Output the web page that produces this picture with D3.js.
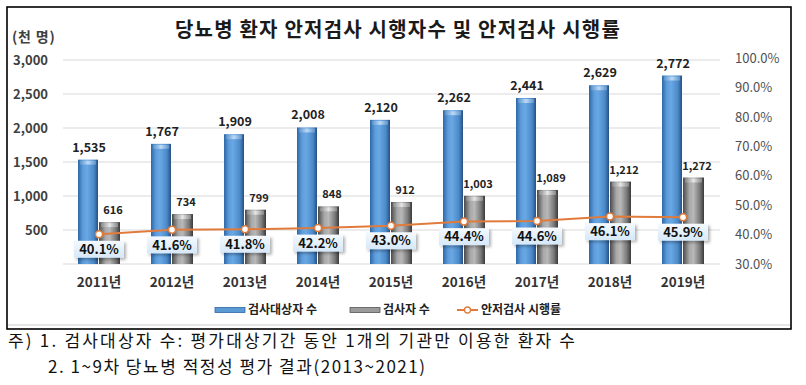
<!DOCTYPE html>
<html>
<head>
<meta charset="utf-8">
<script src="https://cdn.jsdelivr.net/npm/d3@7/dist/d3.min.js"></script>
<style>
  body { margin:0; background:#fff; }
  text { font-family: "Noto Sans CJK KR", "Noto Sans", sans-serif; }
</style>
</head>
<body>
<script>
// data
var years = ["2011년","2012년","2013년","2014년","2015년","2016년","2017년","2018년","2019년"];
var targets = [1535,1767,1909,2008,2120,2262,2441,2629,2772];   // 검사대상자 수 (천 명)
var examined = [616,734,799,848,912,1003,1089,1212,1272];       // 검사자 수 (천 명)
var rates = [40.1,41.6,41.8,42.2,43.0,44.4,44.6,46.1,45.9];     // 안저검사 시행률 (%)
var leftTicks = [500,1000,1500,2000,2500,3000];
var rightTicks = [30,40,50,60,70,80,90,100];
var seriesNames = ["검사대상자 수","검사자 수","안저검사 시행률"];
var notes = ["주) 1. 검사대상자 수: 평가대상기간 동안 1개의 기관만 이용한 환자 수",
             "2. 1~9차 당뇨병 적정성 평가 결과(2013~2021)"];

var width = 806, height = 385;
var svg = d3.select("body").append("svg")
  .attr("width", width).attr("height", height);

var defs = svg.append("defs");
function hGrad(id, stops){
  var g = defs.append("linearGradient").attr("id", id)
    .attr("x1","0%").attr("x2","100%").attr("y1","0%").attr("y2","0%");
  stops.forEach(function(s){ g.append("stop").attr("offset", s[0]).attr("stop-color", s[1]); });
}
hGrad("blueG", [["0%","#2f67a6"],["25%","#5d9ddc"],["45%","#6aa8e4"],["80%","#4a88c8"],["100%","#264f80"]]);
hGrad("grayG", [["0%","#4a4a4a"],["30%","#a8a8a8"],["50%","#b8b8b8"],["80%","#7a7a7a"],["100%","#3a3a3a"]]);
hGrad("blueCap", [["0%","#5c93cc"],["50%","#bcdaf6"],["100%","#5c93cc"]]);
hGrad("grayCap", [["0%","#888"],["50%","#e6e6e6"],["100%","#888"]]);
var bg = defs.append("linearGradient").attr("id","boxG").attr("x1","0").attr("x2","0").attr("y1","0").attr("y2","1");
bg.append("stop").attr("offset","0%").attr("stop-color","#f4f9fe");
bg.append("stop").attr("offset","100%").attr("stop-color","#d6e8f8");
var sh = defs.append("filter").attr("id","shadow").attr("x","-20%").attr("y","-30%").attr("width","150%").attr("height","170%");
sh.append("feDropShadow").attr("dx",2).attr("dy",2).attr("stdDeviation",1.5).attr("flood-color","#000").attr("flood-opacity",0.3);

// frame
svg.append("rect").attr("x",7).attr("y",7).attr("width",784).attr("height",322)
  .attr("fill","#fff").attr("stroke","#000").attr("stroke-width",1.6);
svg.append("line").attr("x1",8).attr("x2",790).attr("y1",325).attr("y2",325)
  .attr("stroke","#dcdcdc").attr("stroke-width",1.5);

// title
svg.append("text").attr("x",398).attr("y",37).attr("text-anchor","middle")
  .attr("font-size",20).attr("font-weight","bold").attr("fill","#1a1a1a")
  .attr("letter-spacing",1.2)
  .text("당뇨병 환자 안저검사 시행자수 및 안저검사 시행률");

var x = d3.scaleBand().domain(years).range([62.5, 719.5]);
var y = d3.scaleLinear().domain([0,3000]).range([264,60]);
var yr = d3.scaleLinear().domain([30,100]).range([264,58]);

// grid
svg.append("g").selectAll("line").data([0].concat(leftTicks)).enter().append("line")
  .attr("x1",63).attr("x2",720)
  .attr("y1",function(d){return y(d);}).attr("y2",function(d){return y(d);})
  .attr("stroke","#d9d9d9").attr("stroke-width",1);

// left axis
var la = svg.append("g").attr("transform","translate(48,0)")
  .call(d3.axisLeft(y).tickValues(leftTicks).tickSize(0).tickPadding(0).tickFormat(d3.format(",")));
la.select(".domain").remove();
la.selectAll("text").attr("font-size",13).attr("font-weight","bold").attr("fill","#404040")
  .attr("font-family","'Noto Sans', sans-serif");
svg.append("text").attr("x",12).attr("y",42).attr("font-size",14).attr("font-weight","bold")
  .attr("letter-spacing",0.8).attr("fill","#404040").text("(천 명)");

// right axis
var ra = svg.append("g").attr("transform","translate(735,0)")
  .call(d3.axisRight(yr).tickValues(rightTicks).tickSize(0).tickPadding(0).tickFormat(function(d){return d.toFixed(1)+"%";}));
ra.select(".domain").remove();
ra.selectAll("text").attr("font-size",13).attr("fill","#505050")
  .attr("font-family","'Noto Sans', sans-serif");

// x labels
var xa = svg.append("g").attr("transform","translate(0,277)")
  .call(d3.axisBottom(x).tickSize(0).tickPadding(0));
xa.select(".domain").remove();
xa.selectAll("text").attr("font-size",13.5).attr("font-weight","bold").attr("fill","#333").attr("dy","0.71em");

var bw = 20;
function cx(d){ return x(d) + x.bandwidth()/2; }

// blue bars
var gb = svg.append("g");
gb.selectAll("rect.b").data(years).enter().append("rect")
  .attr("x",function(d){return cx(d)-bw-1;}).attr("width",bw)
  .attr("y",function(d,i){return y(targets[i]);})
  .attr("height",function(d,i){return y(0)-y(targets[i]);})
  .attr("fill","url(#blueG)");
gb.selectAll("rect.bc").data(years).enter().append("rect")
  .attr("x",function(d){return cx(d)-bw+1;}).attr("width",bw-4)
  .attr("y",function(d,i){return y(targets[i])+1;}).attr("height",4)
  .attr("fill","url(#blueCap)");

// gray bars
gb.selectAll("rect.g").data(years).enter().append("rect")
  .attr("x",function(d){return cx(d);}).attr("width",bw+1)
  .attr("y",function(d,i){return y(examined[i]);})
  .attr("height",function(d,i){return y(0)-y(examined[i]);})
  .attr("fill","url(#grayG)");
gb.selectAll("rect.gc").data(years).enter().append("rect")
  .attr("x",function(d){return cx(d)+2;}).attr("width",bw-3)
  .attr("y",function(d,i){return y(examined[i])+1;}).attr("height",4)
  .attr("fill","url(#grayCap)");

// value labels
svg.append("g").selectAll("text").data(years).enter().append("text")
  .attr("x",function(d){return cx(d)-10;})
  .attr("y",function(d,i){return y(targets[i])-8;})
  .attr("text-anchor","middle").attr("font-size",12.5).attr("font-weight","bold").attr("fill","#222")
  .attr("font-family","'Noto Sans', sans-serif")
  .text(function(d,i){return d3.format(",")(targets[i]);});
svg.append("g").selectAll("text").data(years).enter().append("text")
  .attr("x",function(d){return cx(d)+14;})
  .attr("y",function(d,i){return y(examined[i])-8;})
  .attr("text-anchor","middle").attr("font-size",11).attr("font-weight","bold").attr("fill","#222")
  .attr("font-family","'Noto Sans', sans-serif")
  .text(function(d,i){return d3.format(",")(examined[i]);});

// rate line
var line = d3.line().x(function(d,i){return cx(years[i]);}).y(function(d){return yr(d);});
svg.append("path").datum(rates).attr("d",line).attr("fill","none")
  .attr("stroke","#e07b3c").attr("stroke-width",2);
svg.append("g").selectAll("circle").data(rates).enter().append("circle")
  .attr("cx",function(d,i){return cx(years[i]);}).attr("cy",function(d){return yr(d);})
  .attr("r",3.5).attr("fill","#fff").attr("stroke","#e07b3c").attr("stroke-width",1.5);

// rate boxes
var rb = svg.append("g").selectAll("g").data(rates).enter().append("g")
  .attr("transform",function(d,i){return "translate("+cx(years[i])+","+(yr(d)+15)+")";});
rb.append("rect").attr("x",-25).attr("y",-8.5).attr("width",50).attr("height",17)
  .attr("fill","url(#boxG)").attr("filter","url(#shadow)");
rb.append("text").attr("text-anchor","middle").attr("dy","0.36em")
  .attr("font-size",13).attr("font-weight","bold").attr("fill","#111")
  .attr("font-family","'Noto Sans', sans-serif")
  .text(function(d){return d.toFixed(1)+"%";});

// legend
var lg = svg.append("g").attr("transform","translate(0,310)");
lg.append("rect").attr("x",215).attr("y",-2.5).attr("width",30).attr("height",5).attr("fill","#5b9bd5").attr("stroke","#2f67a6").attr("stroke-width",0.8);
lg.append("rect").attr("x",350).attr("y",-2.5).attr("width",30).attr("height",5).attr("fill","#9a9a9a").attr("stroke","#555").attr("stroke-width",0.8);
lg.append("line").attr("x1",457).attr("x2",478).attr("y1",0).attr("y2",0).attr("stroke","#e07b3c").attr("stroke-width",2);
lg.append("circle").attr("cx",467.5).attr("cy",0).attr("r",3).attr("fill","#fff").attr("stroke","#e07b3c").attr("stroke-width",1.3);
lg.selectAll("text").data(seriesNames).enter().append("text")
  .attr("x",function(d,i){return [248,383,481][i];}).attr("dy","0.36em")
  .attr("font-size",12).attr("font-weight","bold").attr("fill","#222")
  .text(function(d){return d;});

// footnotes
svg.append("text").attr("x",8).attr("y",347).attr("font-size",17).attr("fill","#111")
  .attr("textLength",567).attr("lengthAdjust","spacing").text(notes[0]);
svg.append("text").attr("x",48).attr("y",373).attr("font-size",17).attr("fill","#111")
  .attr("textLength",377).attr("lengthAdjust","spacing").text(notes[1]);
</script>
</body>
</html>
